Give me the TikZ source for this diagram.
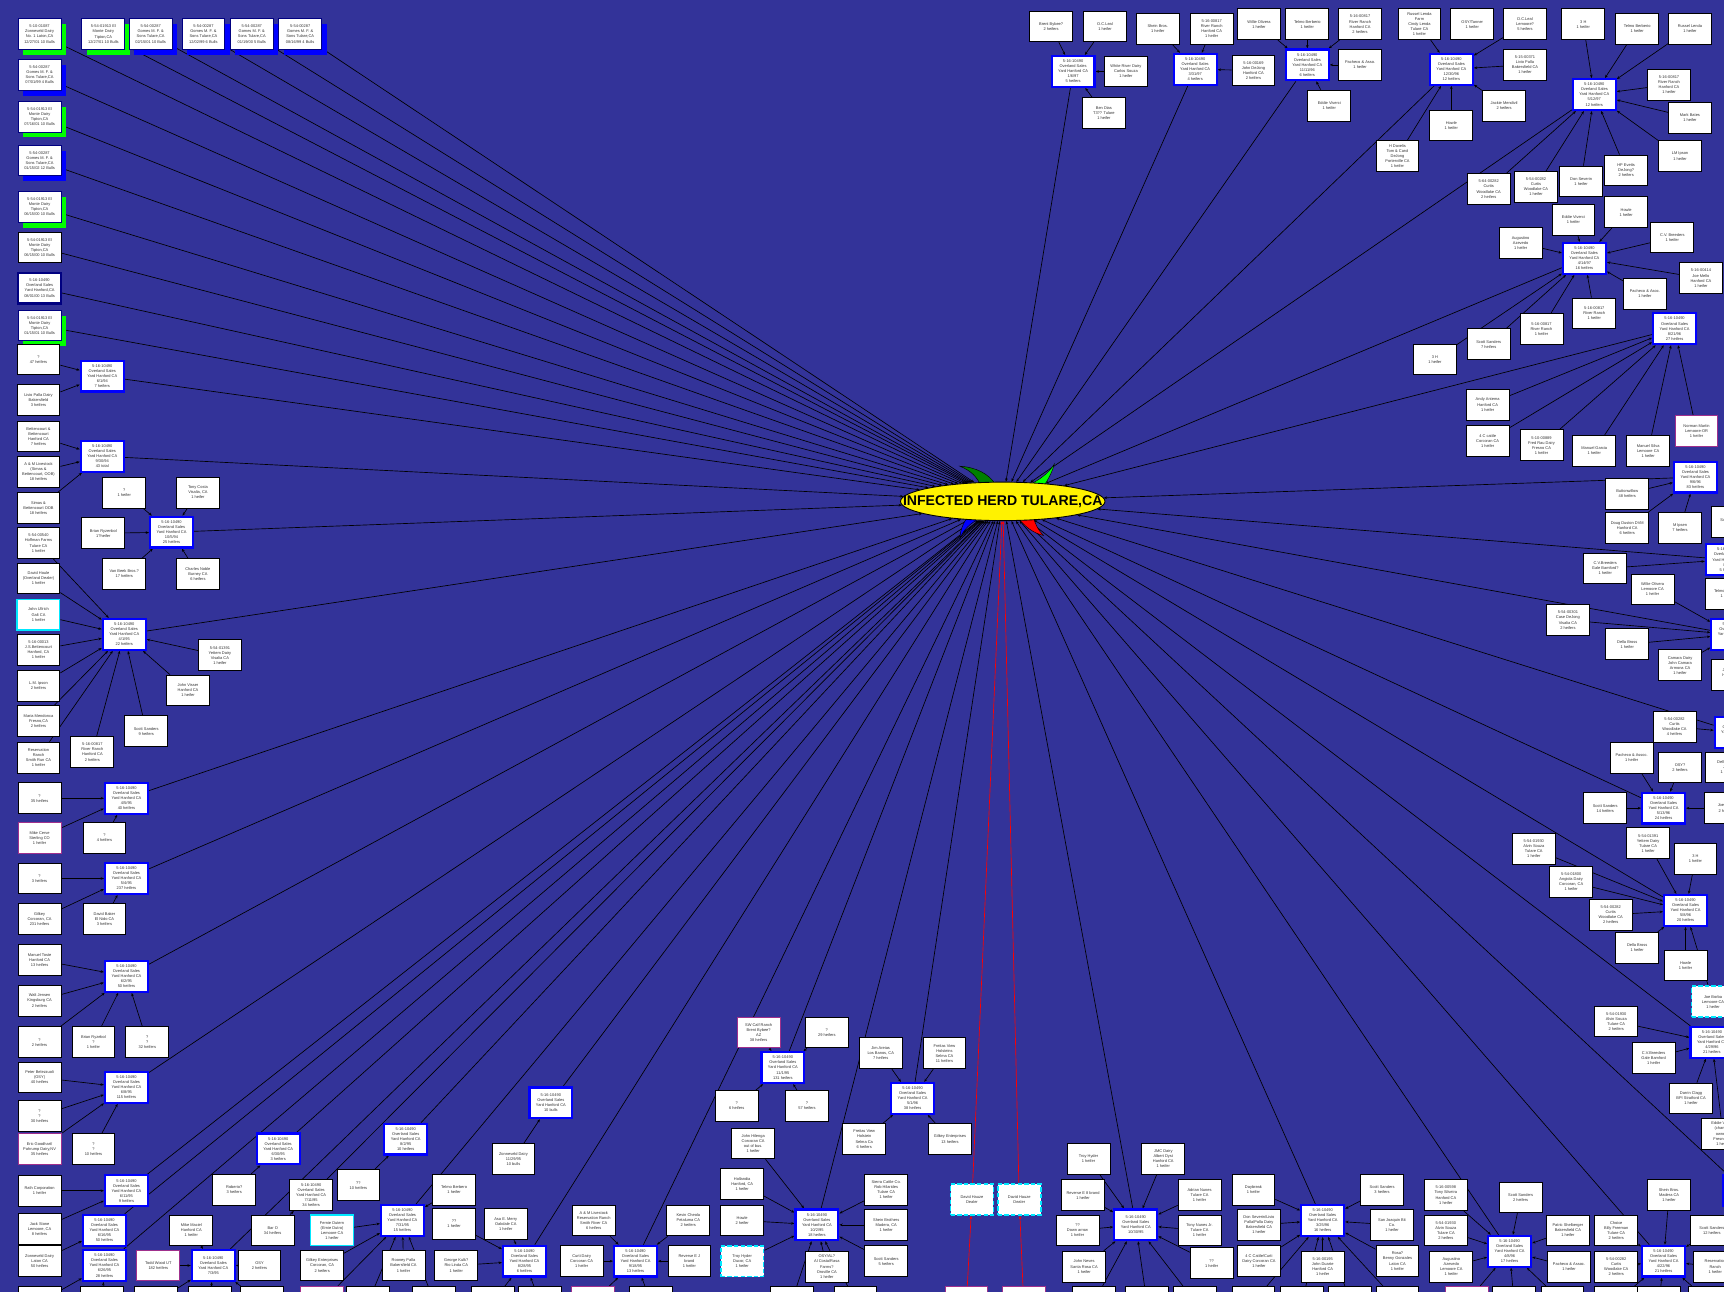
\documentclass[tikz,border=0pt]{standalone}
\usepackage{fontspec}
\setmainfont{Liberation Sans}
\usetikzlibrary{arrows.meta,shapes.geometric,shadows}
\definecolor{field}{HTML}{333399}
\definecolor{navyline}{HTML}{000080}
\definecolor{limeshade}{HTML}{00FF00}
\definecolor{blueshade}{HTML}{0000FF}
\definecolor{leafgreen}{HTML}{008000}
\definecolor{tracemag}{HTML}{A0308C}
\definecolor{aqua}{HTML}{00E8FF}
\definecolor{inkgrey}{HTML}{333333}
\pgfdeclarelayer{bg}
\pgfsetlayers{bg,main}
\newcommand{\hubtext}[2]{5-16-10490\\Overland Sales\\Yard Hanford CA\\#1\\#2}
\newcommand{\gomes}[1]{5-54-00287\\Gomes M. F. \&\\Sons Tulare,CA\\#1}
\newcommand{\elmonte}[1]{5-54-01913 El\\Monte Dairy\\Tipton,CA\\#1}
\begin{document}
\begin{tikzpicture}[x=1pt,y=-1pt,>={Stealth[length=3pt,width=2.4pt]},
  cell/.style={rectangle,draw=black,line width=0.8pt,fill=white,text=inkgrey,
    minimum width=39pt,minimum height=28pt,inner sep=0.6pt,align=center,
    font=\fontsize{3.6}{4.6}\selectfont},
  hub/.style={cell,draw=blueshade,line width=2pt},
  hubnavy/.style={cell,draw=navyline,line width=2pt},
  magbox/.style={cell,draw=tracemag,line width=0.9pt},
  cyanbox/.style={cell,draw=aqua,line width=1pt},
  cyandash/.style={cell,draw=aqua,line width=1.6pt,dash pattern=on 4pt off 2pt},
  bullg/.style={cell,draw=navyline,drop shadow={shadow xshift=4.5pt,shadow yshift=-5pt,fill=limeshade,opacity=1}},
  bullb/.style={cell,draw=navyline,drop shadow={shadow xshift=4.5pt,shadow yshift=-5pt,fill=blueshade,opacity=1}},
  link/.style={->,line width=0.6pt,black},
  redlink/.style={->,line width=0.6pt,red}]
  \useasboundingbox (0,0) rectangle (1568,1175);
  \begin{pgfonlayer}{bg}
    \fill[field] (0,0) rectangle (1568,1175);
  \end{pgfonlayer}
  % horns round the infected herd
  \filldraw[fill=leafgreen,draw=black,line width=0.4pt] (873,424) .. controls (888,425) and (899,431) .. (905,440) -- (892,442) .. controls (889,434) and (883,428) .. cycle;
  \filldraw[fill=limeshade,draw=black,line width=0.4pt] (959,422) .. controls (953,431) and (946,436) .. (936,441) -- (950,441) .. controls (954,435) and (957,429) .. cycle;
  \filldraw[fill=blueshade,draw=black,line width=0.4pt] (873,490) .. controls (876,482) and (882,476) .. (892,471) -- (880,470) .. controls (876,476) and (873,483) .. cycle;
  \filldraw[fill=red,draw=black,line width=0.4pt] (949,487) .. controls (940,485) and (932,479) .. (926,471) -- (940,471) .. controls (942,478) and (945,483) .. cycle;
  \node[ellipse,draw=black,line width=0.8pt,fill=yellow,minimum width=186pt,minimum height=35pt,inner sep=0pt] (ell) at (912,456) {};
  \node[font=\fontsize{12.8}{14}\selectfont\bfseries,inner sep=0pt] (title) at (ell.center) {INFECTED HERD TULARE,CA};

  % bulls sent straight to the herd
  \node[bullg] (b1) at (36,31) {5-10-01087\\Zonneveld Dairy\\No. 1 Laton,CA\\12/27/01 10 Bulls};
  \node[bullg] (b2) at (94,31) {\elmonte{12/27/01 10 Bulls}};
  \node[bullb] (b3) at (137,31) {\gomes{02/15/01 10 Bulls}};
  \node[bullb] (b4) at (185,31) {\gomes{12/02/99 6 Bulls}};
  \node[bullb] (b5) at (229,31) {\gomes{01/19/00 5 Bulls}};
  \node[bullb] (b6) at (273,31) {\gomes{08/16/99 4 Bulls}};
  \node[bullb] (b7) at (36,68) {\gomes{07/01/99 4 Bulls}};
  \node[bullg] (b8) at (36,106) {\elmonte{07/16/01 10 Bulls}};
  \node[bullb] (b9) at (36,146) {\gomes{01/15/02 12 Bulls}};
  \node[bullg] (b10) at (36,188) {\elmonte{06/15/00 10 Bulls}};
  \node[cell] (b11) at (36,225) {\elmonte{06/15/00 10 Bulls}};
  \node[hubnavy] (b12) at (36,262) {5-16-10490\\Overland Sales\\Yard Hanford,CA\\08/01/00 13 Bulls};
  \node[bullg] (b13) at (36,296) {\elmonte{01/15/01 10 Bulls}};

  % left side sales 1994-95
  \node[cell] (a1) at (35,327) {?\\47 heifers};
  \node[cell] (a2) at (35,364) {Livio Palla Dairy\\Bakersfield\\3 heifers};
  \node[hub] (hA) at (93,342) {\hubtext{6/1/94}{7 heifers}};
  \node[cell] (bb1) at (35,397) {Bettencourt \&\\Bettencourt\\Hanford CA\\7 heifers};
  \node[cell] (bb2) at (35,429) {A \& M Livestock\\(Simas \&\\Bettencourt, OOB)\\18 heifers};
  \node[cell] (bb3) at (35,462) {Simas \&\\Bettencourt OOB\\18 heifers};
  \node[hub] (hB) at (93,415) {\hubtext{9/30/94}{43 total}};
  \node[cell] (c1) at (113,448) {?\\1 heifer};
  \node[cell] (c2) at (180,448) {Tony Costa\\Visalia, CA\\1 heifer};
  \node[cell] (c3) at (94,485) {Brian Ryzenbol\\1?heifer};
  \node[cell] (c4) at (113,522) {Van Beek Bros.?\\17 heifers};
  \node[cell] (c5) at (180,522) {Charles Noble\\Burney CA\\6 heifers};
  \node[hub] (hC) at (156,484) {\hubtext{10/5/94}{25 heifers}};
  \node[cell] (d1) at (35,494) {5-54-00540\\Hoffman Farms\\Tulare CA\\1 heifer};
  \node[cell] (d2) at (35,526) {David Houle\\(Overland Dealer)\\1 heifer};
  \node[cyanbox] (d3) at (35,559) {John Ullrich\\Galt CA\\1 heifer};
  \node[cell] (d4) at (35,591) {5-16-00013\\J.S.Bettencourt\\Hanford, CA\\1 heifer};
  \node[cell] (d5) at (35,624) {L.M. Ipson\\2 heifers};
  \node[cell] (d6) at (35,656) {Maria Mendonca\\Fresno,CA\\2 heifers};
  \node[cell] (d7) at (35,689) {Reservation\\Ranch\\Smith Run CA\\1 heifer};
  \node[cell] (d8) at (84,684) {5-16-00817\\River Ranch\\Hanford CA\\2 heifers};
  \node[cell] (d9) at (133,665) {Scott Sanders\\9 heifers};
  \node[cell] (d10) at (171,628) {John Visser\\Hanford CA\\1 heifer};
  \node[cell] (d11) at (200,596) {5-54-01391\\Yettem Dairy\\Visalia CA\\1 heifer};
  \node[hub] (hD) at (113,577) {\hubtext{4/1/95}{22 heifers}};
  \node[cell] (e1) at (36,726) {?\\35 heifers};
  \node[magbox] (e2) at (36,762) {Mike Cerve\\Sterling CO\\1 heifer};
  \node[cell] (e3) at (95,762) {?\\4 heifers};
  \node[hub] (hE) at (115,726) {\hubtext{4/5/95}{40 heifers}};
  \node[cell] (f1) at (36,799) {?\\3 heifers};
  \node[cell] (f2) at (36,836) {Gilkey\\Corcoran, CA\\231 heifers};
  \node[cell] (f3) at (95,836) {David Baker\\El Nido CA\\3 heifers};
  \node[hub] (hF) at (115,799) {\hubtext{5/4/95}{237 heifers}};
  \node[cell] (g1) at (36,873) {Manuel Toste\\Hanford CA\\13 heifers};
  \node[cell] (g2) at (36,910) {Walt Jensen\\Kingsburg CA\\2 heifers};
  \node[cell] (g3) at (36,948) {?\\2 heifers};
  \node[cell] (g4) at (85,948) {Brian Ryzebol\\?\\1 heifer};
  \node[cell] (g5) at (134,948) {?\\?\\32 heifers};
  \node[hub] (hG) at (115,888) {\hubtext{6/2/95}{50 heifers}};
  \node[cell] (h1) at (36,980) {Peter Belezzuoli\\(OSY)\\40 heifers};
  \node[cell] (h2) at (36,1015) {?\\?\\30 heifers};
  \node[magbox] (h3) at (36,1045) {Eric Goodhart/\\Pahrump Dairy,NV\\35 heifers};
  \node[cell] (h4) at (85,1045) {?\\?\\10 heifers};
  \node[hub] (hH) at (115,989) {\hubtext{6/8/95}{115 heifers}};
  \node[cell] (i1) at (36,1083) {Rath Corporation\\1 heifer};
  \node[cell] (i2) at (36,1118) {Jack Stone\\Lemoore, CA\\8 heifers};
  \node[hub] (hI) at (115,1083) {\hubtext{6/11/95}{9 heifers}};
  \node[cell] (j1) at (36,1147) {Zonneveld Dairy\\Laton CA\\50 heifers};
  \node[hub] (hJ) at (95,1119) {\hubtext{6/16/95}{50 heifers}};
  \node[cell,anchor=north] (k1) at (36,1170) {A \& M livestock/\\Scheme};
  \node[cell] (pk) at (93,1184) {};
  \node[hub] (hK) at (95,1151) {\hubtext{6/26/95}{28 heifers}};

  % bottom row, summer and fall 1995
  \node[cell] (l1) at (213,1082) {Roberio?\\3 heifers};
  \node[hub] (hL) at (253,1045) {\hubtext{6/30/95}{3 heifers}};
  \node[cell] (m0) at (283,1087) {\hubtext{7/11/95}{34 heifers}};
  \node[cell] (m1) at (248,1119) {Bar O\\34 heifers};
  \node[cell] (m2) at (174,1119) {Mike Maciel\\Hanford CA\\1 heifer};
  \node[magbox] (m3) at (144,1151) {Todd Wood UT\\182 heifers};
  \node[cell] (m4) at (236,1151) {OSY\\2 heifers};
  \node[hub] (hM) at (194,1151) {5-16-10490\\Overland Sales\\Yard Hanford CA\\7/3/95};
  \node[cell] (pm1) at (142,1184) {};
  \node[cell] (pm2) at (191,1184) {};
  \node[cell] (pm3) at (238,1184) {};
  \node[cell] (n1) at (326,1078) {??\\10 heifers};
  \node[hub] (hN) at (369,1036) {\hubtext{8/2/95}{10 heifers}};
  \node[cyanbox] (p1) at (302,1119) {Fernie Dutern\\(Ernie Dutro)\\Lemoore CA\\1 heifer};
  \node[cell] (p2) at (413,1082) {Telmo Berbero\\1 heifer};
  \node[cell] (p3) at (293,1151) {Gilkey Enterprises\\Corcoran, CA\\2 heifers};
  \node[cell] (p4) at (367,1151) {Rooney Palla\\Bakersfield CA\\1 heifer};
  \node[hub] (hP) at (366,1110) {\hubtext{7/31/95}{15 heifers}};
  \node[magbox] (pp1) at (293,1184) {};
  \node[cell] (pp2) at (335,1184) {};
  \node[cell] (pq0) at (395,1184) {};
  \node[cell] (o1) at (467,1054) {Zonneveld Dairy\\11/29/95\\10 bulls};
  \node[hub] (hO) at (501,1003) {5-16-10490\\Overland Sales\\Yard Hanford CA\\10 bulls};
  \node[cell] (q1) at (413,1113) {??\\1 heifer};
  \node[cell] (q2) at (460,1113) {Asa E. Merry\\Oakdale CA\\1 heifer};
  \node[cell] (q3) at (415,1151) {George Kulk?\\Rio Linda CA\\1 heifer};
  \node[hub] (hQ) at (477,1147) {\hubtext{8/28/95}{6 heifers}};
  \node[cell] (pq1) at (448,1184) {};
  \node[cell] (pq2) at (491,1184) {};
  \node[cell] (r1) at (540,1110) {A \& M Livestock\\Reservation Ranch\\Smith River CA\\6 heifers};
  \node[cell] (r2) at (626,1110) {Kevin Cheola\\Petaluma CA\\2 heifers};
  \node[cell] (r3) at (529,1147) {Curti Dairy\\Corcoran CA\\1 heifer};
  \node[cell] (r4) at (627,1147) {Reverse E J\\brand\\1 heifer};
  \node[hub] (hR) at (578,1147) {\hubtext{9/18/95}{13 heifers}};
  \node[magbox] (pr1) at (539,1184) {};
  \node[cell] (pr2) at (592,1184) {};
  \node[magbox] (s1) at (690,939) {SW Calf Ranch\\Brent Bybee?\\AZ\\38 heifers};
  \node[cell] (s2) at (752,939) {?\\29 heifers};
  \node[cell] (s3) at (670,1006) {?\\6 heifers};
  \node[cell] (s4) at (734,1006) {?\\57 heifers};
  \node[hub] (hS) at (712,971) {\hubtext{11/1/95}{131 heifers}};
  \node[cell] (t1) at (801,958) {Jim Areias\\Los Banos, CA\\7 heifers};
  \node[cell] (t2) at (859,958) {Freitas View\\Holsteins\\Selma CA\\11 heifers};
  \node[cell] (t3) at (786,1036) {Freitas View\\Holstein\\Selma Ca\\6 heifers};
  \node[cell] (t4) at (864,1036) {Gilkey Enterprises\\13 heifers};
  \node[hub] (hT) at (830,999) {\hubtext{5/1/96}{38 heifers}};
  \node[cell] (u1) at (685,1040) {John Hilenga\\Corcoran CA\\out of bus.\\1 heifer};
  \node[cell] (u2) at (675,1077) {Hollandia\\Hanford, CA\\1 heifer};
  \node[cell] (u3) at (675,1110) {Howle\\2 heifer};
  \node[cyandash] (u4) at (675,1147) {Troy Hyder\\Ducor, CA\\1 heifer};
  \node[cell] (u5) at (752,1152) {OSY/AL?\\Al Costa/Rasa\\Farms?\\Oroville CA\\1 heifer};
  \node[cell] (u6) at (806,1082) {Sierra Cattle Co.\\Rob Hilarides\\Tulare CA\\1 heifer};
  \node[cell] (u7) at (806,1114) {Shein Brothers\\Madera, CA\\1 heifer};
  \node[cell] (u8) at (806,1147) {Scott Sanders\\5 heifers};
  \node[hub] (hU) at (743,1114) {\hubtext{10/2/95}{18 heifers}};
  \node[cell] (pu1) at (720,1184) {};
  \node[cell] (pu2) at (778,1184) {};

  % dealer link in red
  \node[cyandash] (dh1) at (884,1091) {David Hauze\\Dealer};
  \node[cyandash] (dh2) at (927,1091) {David Hauze\\Dealer};
  \node[magbox] (rm1) at (879,1184) {};
  \node[magbox] (rm2) at (931,1184) {};

  % bottom right sales
  \node[cell] (v1) at (990,1054) {Troy Hyder\\1 heifer};
  \node[cell] (v2) at (1058,1054) {JMC Dairy\\Albert Dyst\\Hanford CA\\1 heifer};
  \node[cell] (v3) at (985,1087) {Reverse E 8 brand\\1 heifer};
  \node[cell] (v4) at (980,1119) {??\\Down arrow\\1 heifer};
  \node[cell] (v5) at (1091,1087) {Adrian Nunes\\Tulare CA\\1 heifer};
  \node[cell] (v6) at (1091,1119) {Tony Nunes Jr.\\Tulare CA\\1 heifer};
  \node[cell] (v7) at (1102,1149) {??\\1 heifer};
  \node[cell] (v8) at (986,1152) {John Neves\\Santa Rosa CA\\1 heifer};
  \node[hub] (hV) at (1033,1114) {5-16-10490\\Overland Sales\\Yard Hanford CA\\10/30/95};
  \node[cell] (pv1) at (995,1184) {};
  \node[cell] (pv2) at (1043,1184) {};
  \node[cell] (pv3) at (1087,1184) {};
  \node[cell] (y1) at (1140,1082) {Daybreak\\1 heifer};
  \node[cell] (y2) at (1257,1082) {Scott Sanders\\3 heifers};
  \node[cell] (y3) at (1145,1114) {Don Severin/Livio\\Palla/Palla Dairy\\Bakersfield CA\\1 heifer};
  \node[cell] (y4) at (1266,1114) {San Joaquin Bit\\Co.\\1 heifer};
  \node[cell] (y5) at (1145,1147) {4 C Cattle/Curti\\Dairy Corcoran CA\\1 heifer};
  \node[cell] (y6) at (1203,1152) {5-16-00195\\John Duarte\\Hanford CA\\1 heifer};
  \node[cell] (y7) at (1271,1147) {Rosa?\\Benny Gonzales\\Laton CA\\1 heifer};
  \node[hub] (hY) at (1203,1110) {\hubtext{3/25/96}{16 heifers}};
  \node[cell] (py1) at (1140,1184) {};
  \node[cell] (py2) at (1184,1184) {};
  \node[cell] (py3) at (1228,1184) {};
  \node[cell] (py4) at (1271,1184) {};
  \node[cell] (z1) at (1315,1087) {5-16-00598\\Tony Silveira\\Hanford CA\\1 heifer};
  \node[cell] (z2) at (1315,1119) {5-54-01930\\Alvin Souza\\Tulare CA\\2 heifers};
  \node[cell] (z3) at (1320,1152) {Augustino\\Azevedo\\Lemoore CA\\1 heifer};
  \node[cell] (z4) at (1383,1089) {Scott Sanders\\2 heifers};
  \node[cell] (z5) at (1426,1119) {Patric Shelberger\\Bakersfield CA\\1 heifer};
  \node[cell] (z6) at (1427,1152) {Pacheco \& Assoc.\\1 heifer};
  \node[hub] (hZ) at (1373,1138) {\hubtext{4/8/96}{17 heifers}};
  \node[magbox] (pz1) at (1334,1184) {};
  \node[cell] (pz2) at (1377,1184) {};
  \node[cell] (pz3) at (1421,1184) {};
  \node[cell] (aa1) at (1470,1119) {Choice\\Billy Freeman\\Tulare CA\\2 heifers};
  \node[cell] (aa2) at (1470,1152) {5-54-00282\\Curtis\\Woodlake CA\\2 heifers};
  \node[cell] (aa3) at (1518,1087) {Shein Bros.\\Madera CA\\1 heifer};
  \node[cell] (aa4) at (1557,1119) {Scott Sanders\\12 heifers};
  \node[cell] (aa5) at (1560,1152) {Reservation\\Ranch\\1 heifer};
  \node[hub] (hAA) at (1513,1147) {\hubtext{4/22/96}{21 heifers}};
  \node[cell] (pa1) at (1470,1184) {};
  \node[cell] (pa2) at (1509,1184) {};
  \node[cell] (pa3) at (1555,1184) {};

  % right edge sales 1996
  \node[cell] (x1) at (1470,929) {5-54-01930\\Alvin Souza\\Tulare CA\\2 heifers};
  \node[cell] (x2) at (1504,962) {C.V.Breeders\\Gale Bamford\\1 heifer};
  \node[cell] (x3) at (1538,999) {Darrin Clagg\\BPI Stratford CA\\1 heifer};
  \node[cell] (x4) at (1567,1031) {Eddie Viverci\\(changed\\owners)\\Fresno CA\\1 heifer};
  \node[hub] (hX) at (1557,948) {\hubtext{4/29/96}{21 heifers}};
  \node[hub] (hX2) at (1587,1083) {\hubtext{4/96}{heifers}};
  \node[cell] (w1) at (1429,802) {5-54-01800\\Angiola Dairy\\Corcoran, CA\\1 heifer};
  \node[cell] (w2) at (1465,832) {5-54-00282\\Curtis\\Woodlake CA\\2 heifers};
  \node[cell] (w3) at (1489,862) {Della Bross\\1 heifer};
  \node[cell] (w4) at (1533,878) {Howle\\1 heifer};
  \node[cyandash] (w5) at (1558,911) {Joe Borba\\Lemoore CA\\1 heifer};
  \node[cell] (w6) at (1395,772) {5-54-01930\\Alvin Souza\\Tulare CA\\1 heifer};
  \node[cell] (w7) at (1542,781) {3 H\\1 heifer};
  \node[cell] (w8) at (1499,767) {5-54-01391\\Yettem Dairy\\Tulare CA\\1 heifer};
  \node[hub] (hW) at (1533,828) {\hubtext{5/8/96}{20 heifers}};
  \node[cell] (k5a) at (1460,735) {Scott Sanders\\14 heifers};
  \node[cell] (k5b) at (1484,689) {Pacheco \& Assoc.\\1 heifer};
  \node[cell] (k5c) at (1528,698) {OSY?\\2 heifers};
  \node[cell] (k5d) at (1570,735) {Joe Perry\\2 heifers};
  \node[hub] (h5) at (1513,735) {\hubtext{5/13/96}{24 heifers}};
  \node[cell] (cu1) at (1523,661) {5-54-00282\\Curtis\\Woodlake CA\\4 heifers};
  \node[cell] (cu2) at (1571,698) {Della Bross\\John\\1 heifer};
  \node[hub] (hc1) at (1579,666) {\hubtext{5/96}{heifers}};
  \node[cell] (co1) at (1426,564) {5-54-00301\\Case DeJong\\Visalia CA\\2 heifers};
  \node[cell] (co2) at (1480,586) {Della Bross\\1 heifer};
  \node[cell] (co3) at (1528,605) {Camara Dairy\\John Camara\\Armona CA\\1 heifer};
  \node[cell] (co4) at (1503,536) {Willie Olivera\\Lemoore CA\\1 heifer};
  \node[cell] (co5) at (1576,614) {John Visser\\Hanford CA\\1 heifer};
  \node[hub] (hc2) at (1576,577) {\hubtext{7/96}{heifers}};
  \node[cell] (cb1) at (1460,517) {C.V.Breeders\\Gale Bamford?\\1 heifer};
  \node[cell] (cb2) at (1571,540) {Telmo Berberio\\1 heifer};
  \node[hub] (hc3) at (1571,509) {\hubtext{8/96}{5 heifers}};
  \node[cell] (sc1) at (1576,475) {Scott Sanders\\heifers};
  \node[cell] (bt1) at (1480,449) {Buttonwillow\\48 heifers};
  \node[cell] (bt2) at (1480,480) {Doug Duston DVM\\Hanford CA\\6 heifers};
  \node[cell] (bt3) at (1528,480) {M Ipsen\\7 heifers};
  \node[hub] (h96) at (1542,434) {\hubtext{9/6/96}{83 heifers}};
  \node[cell] (ah1) at (1353,368) {Andy Antema\\Hanford CA\\1 heifer};
  \node[cell] (ah2) at (1353,401) {4 C cattle\\Corcoran CA\\1 heifer};
  \node[cell] (ah3) at (1402,405) {5-10-00889\\Fred Rau Dairy\\Fresno CA\\1 heifer};
  \node[cell] (ah4) at (1450,410) {Manuel Garcia\\1 heifer};
  \node[cell] (ah5) at (1499,410) {Manuel Silva\\Lemoore CA\\1 heifer};
  \node[magbox] (ah6) at (1543,392) {Norman Martin\\Lemoore-OR\\1 heifer};
  \node[hub] (hAH) at (1523,299) {\hubtext{8/21/96}{27 heifers}};

  % top right sales 1996-97
  \node[cell] (ag1) at (1383,221) {Augustino\\Azevedo\\1 heifer};
  \node[cell] (ag2) at (1431,200) {Eddie Viverci\\1 heifer};
  \node[cell] (ag3) at (1479,193) {Howle\\1 heifer};
  \node[cell] (ag4) at (1521,216) {C.V. Breeders\\1 heifer};
  \node[cell] (ag5) at (1547,253) {5-16-00414\\Joe Mello\\Hanford CA\\1 heifer};
  \node[cell] (ag6) at (1496,267) {Pacheco \& Asoc.\\1 heifer};
  \node[cell] (ag7) at (1450,285) {5-16-00817\\River Ranch\\1 heifer};
  \node[cell] (ag8) at (1402,299) {5-16-00817\\River Ranch\\1 heifer};
  \node[cell] (ag9) at (1354,313) {Scott Sanders\\7 heifers};
  \node[cell] (ag10) at (1305,327) {3 H\\1 heifer};
  \node[hub] (hAG) at (1441,235) {\hubtext{4/14/97}{16 heifers}};
  \node[cell] (af1) at (1440,22) {3 H\\1 heifer};
  \node[cell] (af2) at (1489,26) {Telmo Berberio\\1 heifer};
  \node[cell] (af3) at (1537,26) {Russel Lenda\\1 heifer};
  \node[cell] (af4) at (1518,77) {5-16-00817\\River Ranch\\Hanford CA\\1 heifer};
  \node[cell] (af5) at (1537,107) {Mark Bates\\1 heifer};
  \node[cell] (af6) at (1528,142) {LM Ipson\\1 heifer};
  \node[cell] (af7) at (1479,155) {HP Evetts\\DeJong?\\2 heifers};
  \node[cell] (af8) at (1438,165) {Don Severin\\1 heifer};
  \node[cell] (af9) at (1397,170) {5-54-00282\\Curtis\\Woodlake CA\\1 heifer};
  \node[cell] (af10) at (1354,172) {5-64-00282\\Curtis\\Woodlake CA\\2 heifers};
  \node[hub] (hAF) at (1450,86) {\hubtext{5/12/97}{12 heifers}};
  \node[cell] (ae1) at (1291,22) {Russel Lenda\\Farm\\Cindy Lenda\\Tulare CA\\1 heifer};
  \node[cell] (ae2) at (1339,22) {OSY/Tanner\\1 heifer};
  \node[cell] (ae3) at (1387,22) {D.C.Leal\\Lemoore?\\5 heifers};
  \node[cell] (ae4) at (1387,59) {5-15-00371\\Livio Palla\\Bakersfield CA\\1 heifer};
  \node[cell] (ae5) at (1368,96) {Jackie Mendivil\\2 heifers};
  \node[cell] (ae6) at (1320,114) {Howle\\1 heifer};
  \node[cell] (ae7) at (1271,142) {H Davelis\\Tom \& Carol\\DeJong\\Porterville CA\\1 heifer};
  \node[hub] (hAE) at (1320,63) {\hubtext{12/30/96}{12 heifers}};
  \node[cell] (ad1) at (1145,22) {Willie Olivera\\1 heifer};
  \node[cell] (ad2) at (1189,22) {Telmo Berberio\\1 heifer};
  \node[cell] (ad3) at (1237,22) {5-16-00817\\River Ranch\\Hanford CA\\2 heifers};
  \node[cell] (ad4) at (1237,59) {Pacheco \& Asso.\\1 heifer};
  \node[cell] (ad5) at (1209,96) {Eddie Viverci\\1 heifer};
  \node[hub] (hAD) at (1189,59) {\hubtext{11/11/96}{6 heifers}};
  \node[cell] (ac1) at (1053,26) {Shein Bros.\\1 heifer};
  \node[cell] (ac2) at (1102,26) {5-16-00817\\River Ranch\\Hanford CA\\1 heifer};
  \node[cell] (ac3) at (1140,64) {5-16-00169\\John DeJong\\Hanford CA\\2 heifers};
  \node[hub] (hAC) at (1087,63) {\hubtext{3/31/97}{4 heifers}};
  \node[cell] (ab1) at (956,24) {Brent Bybee?\\2 heifers};
  \node[cell] (ab2) at (1005,24) {O.C.Leal\\1 heifer};
  \node[cell] (ab3) at (1024,65) {White River Dairy\\Carlos Souza\\1 heifer};
  \node[cell] (ab4) at (1004,103) {Ben Dias\\T3?? Tulare\\1 heifer};
  \node[hub] (hAB) at (976,65) {\hubtext{1/6/97}{5 heifers}};

  \begin{pgfonlayer}{bg}
    % every sale and bull lot into the herd
    \foreach \a in {b1,b2,b3,b4,b5,b6,b7,b8,b9,b10,b11,b12,b13,hA,hB,hC,hD,hE,hF,hG,hH,hI,hJ,hK,hL,m0,hM,hN,hO,hP,hQ,hR,hS,hT,hU,hV,hY,hZ,hAA,hX,hX2,hW,h5,hc1,hc2,hc3,h96,hAH,hAG,hAF,hAE,hAD,hAC,hAB}
      \draw[link] (\a) -- (ell);
    % dealer lines
    \draw[redlink] (dh1) -- (ell);
    \draw[redlink] (dh2) -- (ell);
    \draw[redlink] (rm1) -- (dh1);
    \draw[redlink] (rm2) -- (dh2);
    % sellers into each sale
    \foreach \a/\b in {a1/hA,a2/hA,bb1/hB,bb2/hB,bb3/hB,c1/hC,c2/hC,c3/hC,c4/hC,c5/hC,
        d1/hD,d2/hD,d3/hD,d4/hD,d5/hD,d6/hD,d7/hD,d8/hD,d9/hD,d10/hD,d11/hD,
        e1/hE,e2/hE,e3/hE,f1/hF,f2/hF,f3/hF,g1/hG,g2/hG,g3/hG,g4/hG,g5/hG,
        h1/hH,h2/hH,h3/hH,h4/hH,i1/hI,i2/hI,j1/hJ,k1/hK,pk/hK,
        l1/hL,m1/m0,m2/hM,m3/hM,m4/hM,pm1/hM,pm2/hM,pm3/hM,
        n1/hN,p1/hP,p2/hP,p3/hP,p4/hP,pp1/hP,pp2/hP,pq0/hP,
        o1/hO,q1/hQ,q2/hQ,q3/hQ,pq1/hQ,pq2/hQ,
        r1/hR,r2/hR,r3/hR,r4/hR,pr1/hR,pr2/hR,
        s1/hS,s2/hS,s3/hS,s4/hS,t1/hT,t2/hT,t3/hT,t4/hT,
        u1/hU,u2/hU,u3/hU,u4/hU,u5/hU,u6/hU,u7/hU,u8/hU,pu1/hU,pu2/hU,
        v1/hV,v2/hV,v3/hV,v4/hV,v5/hV,v6/hV,v7/hV,v8/hV,pv1/hV,pv2/hV,pv3/hV,
        y1/hY,y2/hY,y3/hY,y4/hY,y5/hY,y6/hY,y7/hY,py1/hY,py2/hY,py3/hY,py4/hY,
        z1/hZ,z2/hZ,z3/hZ,z4/hZ,z5/hZ,z6/hZ,pz1/hZ,pz2/hZ,pz3/hZ,
        aa1/hAA,aa2/hAA,aa3/hAA,aa4/hAA,aa5/hAA,pa1/hAA,pa2/hAA,pa3/hAA,
        x1/hX,x2/hX,x3/hX,x4/hX,w1/hW,w2/hW,w3/hW,w4/hW,w5/hW,w6/hW,w7/hW,w8/hW,
        k5a/h5,k5b/h5,k5c/h5,k5d/h5,cu1/hc1,cu2/hc1,
        co1/hc2,co2/hc2,co3/hc2,co4/hc2,co5/hc2,cb1/hc3,cb2/hc3,
        bt1/h96,bt2/h96,bt3/h96,ah1/hAH,ah2/hAH,ah3/hAH,ah4/hAH,ah5/hAH,ah6/hAH,
        ag1/hAG,ag2/hAG,ag3/hAG,ag4/hAG,ag5/hAG,ag6/hAG,ag7/hAG,ag8/hAG,ag9/hAG,ag10/hAG,
        af1/hAF,af2/hAF,af3/hAF,af4/hAF,af5/hAF,af6/hAF,af7/hAF,af8/hAF,af9/hAF,af10/hAF,
        ae1/hAE,ae3/hAE,ae4/hAE,ae5/hAE,ae6/hAE,ae7/hAE,
        ad1/hAD,ad2/hAD,ad3/hAD,ad4/hAD,ad5/hAD,ac1/hAC,ac2/hAC,ac3/hAC,
        ab1/hAB,ab2/hAB,ab3/hAB,ab4/hAB}
      \draw[link] (\a) -- (\b);
  \end{pgfonlayer}
\end{tikzpicture}
\end{document}
